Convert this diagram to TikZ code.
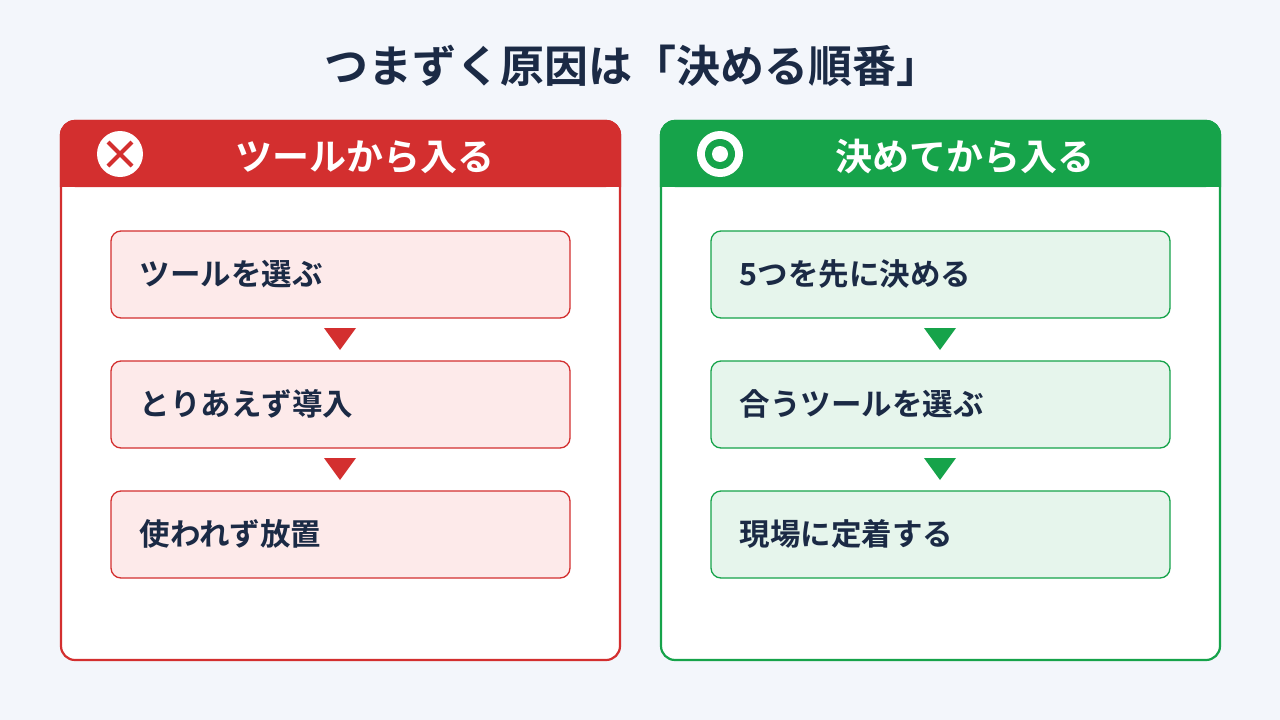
\documentclass[tikz,border=0pt]{standalone}
\usepackage{fontspec}
\setmainfont{Noto Sans CJK JP Bold}
\definecolor{bg}{HTML}{F3F6FB}
\definecolor{navy}{HTML}{1B2A45}
\definecolor{rd}{HTML}{D32F2F}
\definecolor{gr}{HTML}{16A34A}
\definecolor{rdl}{HTML}{FDEAEA}
\definecolor{grl}{HTML}{E6F5EC}
\tikzset{
 panel/.style={draw=#1,line width=2.2pt,fill=white,rounded corners=14},
 stepbox/.style={draw=#1,line width=1.3pt,rounded corners=10},
 steptext/.style={anchor=west,text=navy,font=\fontsize{30.5}{36}\selectfont},
 headtext/.style={text=white,font=\fontsize{37}{42}\selectfont},
}
\begin{document}
\begin{tikzpicture}[x=1pt,y=-1pt]
\fill[bg] (0,0) rectangle (1280,720);
\useasboundingbox (0,0) rectangle (1280,720);
\node[text=navy,font=\fontsize{44}{50}\selectfont] (title) at (632,66) {つまずく原因は「決める順番」};
% left
\draw[panel=rd] (61,121) rectangle (620,660);
\fill[rd,rounded corners=14] (61,121) rectangle (620,187);
\fill[rd] (61,170) rectangle (620,187);
\draw[rd,line width=2.2pt,rounded corners=14] (61,187) -- (61,121) -- (620,121) -- (620,187);
\node[headtext] (lh) at (365,157) {ツールから入る};
\fill[white] (120,154) circle (23);
\draw[rd,line width=4.2pt] (108,142) -- (132,166) (132,142) -- (108,166);
% right
\draw[panel=gr] (661,121) rectangle (1220,660);
\fill[gr,rounded corners=14] (661,121) rectangle (1220,187);
\fill[gr] (661,170) rectangle (1220,187);
\draw[gr,line width=2.2pt,rounded corners=14] (661,187) -- (661,121) -- (1220,121) -- (1220,187);
\node[headtext] (rh) at (965,157) {決めてから入る};
\fill[white] (720,154) circle (23);
\fill[gr] (720,154) circle (15);
\fill[white] (720,154) circle (8);
% steps
\foreach \i/\y/\tl/\tr in {1/231/ツールを選ぶ/5つを先に決める,2/361/とりあえず導入/合うツールを選ぶ,3/491/使われず放置/現場に定着する}{
 \draw[stepbox=rd,fill=rdl] (111,\y) rectangle (570,\y+87);
 \node[steptext] (l\i) at (136,\y+43) {\tl};
 \draw[stepbox=gr,fill=grl] (711,\y) rectangle (1170,\y+87);
 \node[steptext] (r\i) at (736,\y+43) {\tr};
}
\foreach \y in {328,458}{
 \fill[rd] (324,\y) -- (356,\y) -- (340,\y+22) -- cycle;
 \fill[gr] (924,\y) -- (956,\y) -- (940,\y+22) -- cycle;
}
\end{tikzpicture}
\end{document}
